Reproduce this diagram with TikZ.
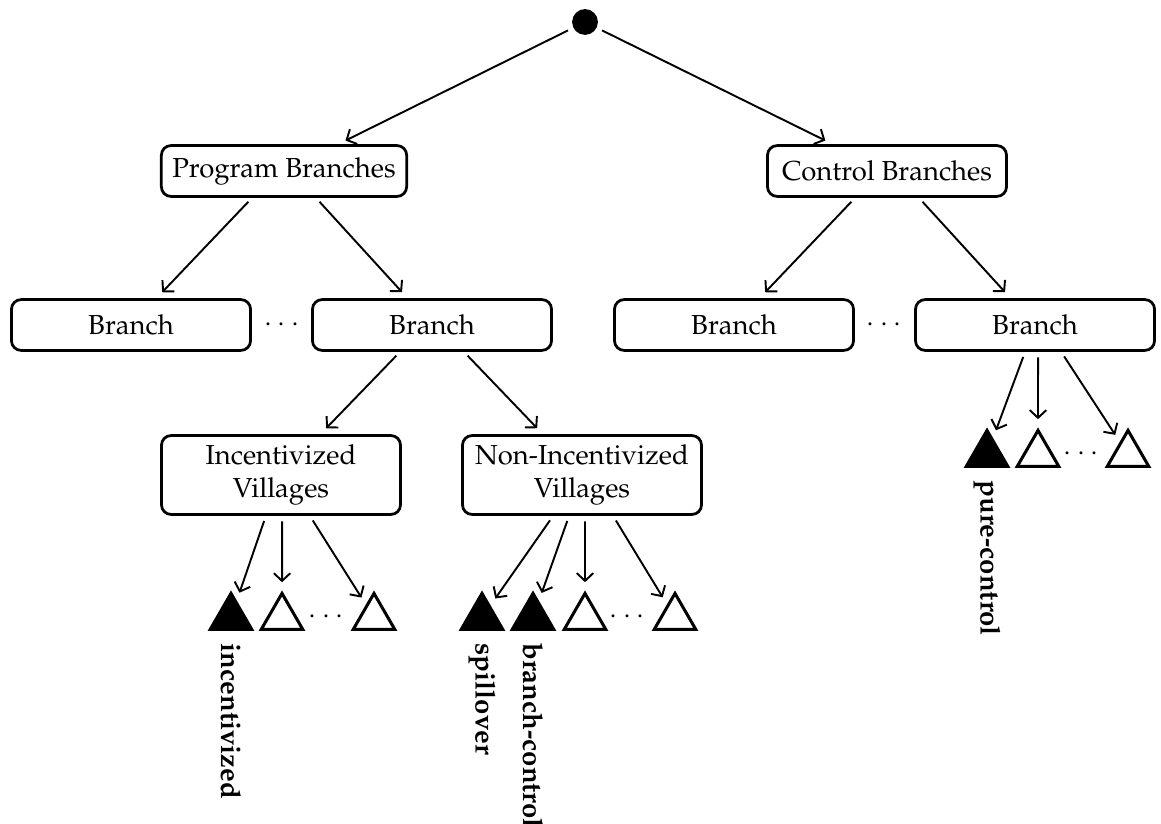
\documentclass[tikz,border=0pt]{standalone}
\usepackage[T1]{fontenc}
\usepackage{mathpazo}
\usetikzlibrary{shapes.geometric,positioning,arrows.meta}

\begin{document}
\begin{tikzpicture}[x=0.364pt,y=-0.364pt,>={Straight Barb[length=2.8pt,width=6pt]},
    box/.style={draw,line width=1pt,rounded corners=3.5pt,minimum width=87pt,minimum height=18.5pt,inner xsep=4pt,align=center},
    tri/.style={regular polygon,regular polygon sides=3,draw,line width=1.1pt,inner sep=0pt,minimum size=17.5pt,anchor=south},
    fulltri/.style={tri,fill=black},
    opentri/.style={tri,fill=white},
    lbl/.style={rotate=-90,font=\bfseries},
    link/.style={->,line width=0.7pt,shorten <=2pt,shorten >=3pt}]
    \useasboundingbox (0,0) rectangle (1161,824);

    % top of the tree
    \node[circle,fill=black,inner sep=0pt,minimum size=9.4pt] (root) at (585,22) {};
    \node[box] (pb) at (284,171) {Program Branches};
    \node[box] (cb) at (887,171) {Control Branches};

    % branches
    \node[box] (b1) at (131,325) {Branch};
    \node (d1) at (282,325) {$\cdots$};
    \node[box] (b2) at (432,325) {Branch};
    \node[box] (b3) at (734,325) {Branch};
    \node (d2) at (884,325) {$\cdots$};
    \node[box] (b4) at (1035,325) {Branch};

    % villages
    \node[box] (iv) at (281,475) {Incentivized\\Villages};
    \node[box] (nv) at (582,475) {Non-Incentivized\\Villages};

    % households
    \node[fulltri] (it1) at (231,631) {};
    \node[opentri] (it2) at (282,631) {};
    \node (id) at (326,617) {$\cdots$};
    \node[opentri] (it3) at (374,631) {};

    \node[fulltri] (nt1) at (482,631) {};
    \node[fulltri] (nt2) at (533,631) {};
    \node[opentri] (nt3) at (585,631) {};
    \node (nd) at (627,617) {$\cdots$};
    \node[opentri] (nt4) at (675,631) {};

    \node[fulltri] (ct1) at (987,468) {};
    \node[opentri] (ct2) at (1038,468) {};
    \node (cd) at (1081,454) {$\cdots$};
    \node[opentri] (ct3) at (1128,468) {};

    \node[lbl, below=1pt of it1, anchor=west] (li) {incentivized};
    \node[lbl, below=1pt of nt1, anchor=west] (ls) {spillover};
    \node[lbl, below=1pt of nt2, anchor=west] (lb) {branch-control};
    \node[lbl, below=1pt of ct1, anchor=west] (lp) {pure-control};

    \draw[link] (root) -- (pb);
    \draw[link] (root) -- (cb);
    \draw[link] ([xshift=-11.6pt]pb.south) -- (b1);
    \draw[link] ([xshift=11.6pt]pb.south) -- (b2);
    \draw[link] ([xshift=-11.6pt]cb.south) -- (b3);
    \draw[link] ([xshift=11.6pt]cb.south) -- (b4);
    \draw[link] ([xshift=-11.6pt]b2.south) -- (iv);
    \draw[link] ([xshift=11.6pt]b2.south) -- (nv);

    \draw[link] ([xshift=-5.5pt]iv.south) -- (it1);
    \draw[link] ([xshift=0.4pt]iv.south) -- (it2);
    \draw[link] ([xshift=10.5pt]iv.south) -- (it3);
    \draw[link] ([xshift=-10.5pt]nv.south) -- (nt1);
    \draw[link] ([xshift=-4.7pt]nv.south) -- (nt2);
    \draw[link] ([xshift=1.1pt]nv.south) -- (nt3);
    \draw[link] ([xshift=11.3pt]nv.south) -- (nt4);
    \draw[link] ([xshift=-3.6pt]b4.south) -- (ct1);
    \draw[link] ([xshift=1.1pt]b4.south) -- (ct2);
    \draw[link] ([xshift=9.5pt]b4.south) -- (ct3);
\end{tikzpicture}
\end{document}
